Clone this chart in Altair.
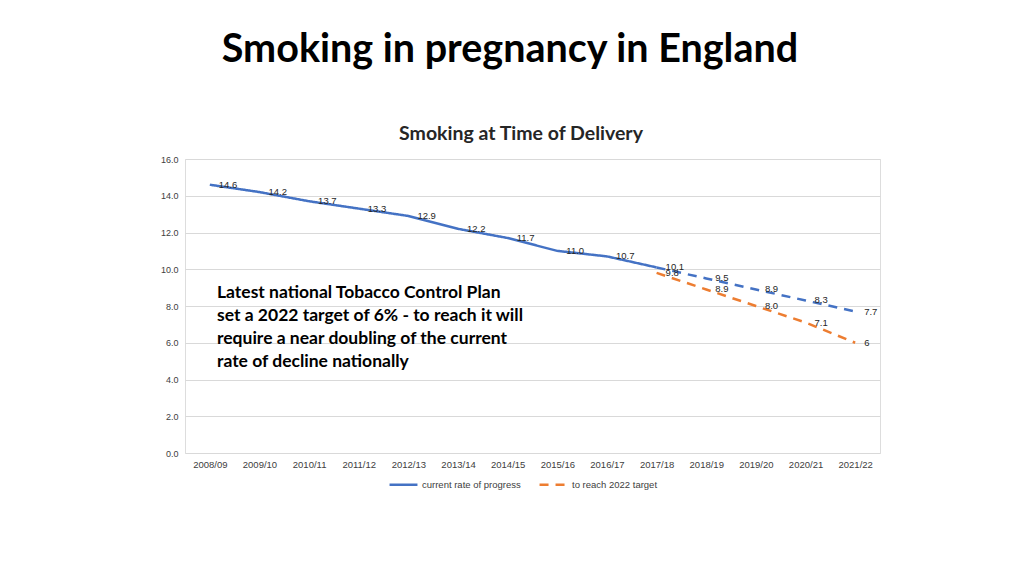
import altair as alt
import pandas as pd

years = ["2008/09", "2009/10", "2010/11", "2011/12", "2012/13", "2013/14", "2014/15",
         "2015/16", "2016/17", "2017/18", "2018/19", "2019/20", "2020/21", "2021/22"]
actual_years = years[:10]
actual_values = [14.6, 14.2, 13.7, 13.3, 12.9, 12.2, 11.7, 11.0, 10.7, 10.1]
proj_years = years[9:]
proj_values = [10.1, 9.5, 8.9, 8.3, 7.7]
target_years = years[9:]
target_values = [9.8, 8.9, 8.0, 7.1, 6.0]
target_labels = ["9.8", "8.9", "8.0", "7.1", "6"]

S1 = "current rate of progress"
S2 = "to reach 2022 target"
BLUE = "#4472C4"
ORANGE = "#ED7D31"
DASH = [9, 7]

main = pd.DataFrame(
    [{"year": y, "value": v, "series": S1, "label": f"{v:.1f}"} for y, v in zip(actual_years, actual_values)]
    + [{"year": y, "value": v, "series": S2, "label": l} for y, v, l in zip(target_years, target_values, target_labels)]
)
proj = pd.DataFrame({"year": proj_years, "value": proj_values,
                     "label": [f"{v:.1f}" for v in proj_values]})

W, H = 695, 294
xenc = alt.X("year:N", sort=years, scale=alt.Scale(domain=years, paddingInner=0, paddingOuter=0.5),
             axis=alt.Axis(title=None, labelAngle=0, labelFontSize=9.5, labelColor="#404040",
                           labelFont="Liberation Sans", ticks=False, domain=False, labelPadding=6))
yenc = alt.Y("value:Q", scale=alt.Scale(domain=[0, 16]),
             axis=alt.Axis(title=None, values=[0, 2, 4, 6, 8, 10, 12, 14, 16], format=".1f",
                           labelFontSize=9, labelColor="#404040", labelFont="Liberation Sans",
                           ticks=False, domain=False, gridColor="#d9d9d9", labelPadding=7,
                           labelOverlap=False))

leg = alt.Legend(title=None, orient="none", legendX=203, legendY=310,
                 direction="horizontal", symbolType="stroke",
                 symbolStrokeWidth=2.5, symbolSize=780, labelOffset=3,
                 labelFontSize=9.5, labelFont="Liberation Sans",
                 labelColor="#404040", columnPadding=13)

lines = alt.Chart(main).mark_line(strokeWidth=2.5).encode(
    x=xenc, y=yenc,
    color=alt.Color("series:N", scale=alt.Scale(domain=[S1, S2], range=[BLUE, ORANGE]), legend=leg),
    strokeDash=alt.StrokeDash("series:N", scale=alt.Scale(domain=[S1, S2], range=[[1, 0], DASH]),
                              legend=leg),
)

proj_line = alt.Chart(proj).mark_line(strokeWidth=2.5, strokeDash=DASH, color=BLUE).encode(
    x=xenc, y=yenc)

main_labels = alt.Chart(main).mark_text(align="left", baseline="middle", dx=9, fontSize=9.5,
                                        font="Liberation Sans", color="#262626").encode(
    x=xenc, y=yenc, text="label:N")
proj_labels = alt.Chart(proj[1:]).mark_text(align="left", baseline="middle", dx=9, fontSize=9.5,
                                            font="Liberation Sans", color="#262626").encode(
    x=xenc, y=yenc, text="label:N")

title = alt.Chart(pd.DataFrame({"t": ["Smoking in pregnancy in England"]})).mark_text(
    align="center", baseline="middle", font="Lato", fontWeight="bold", fontSize=39.5, color="#000000"
).encode(x=alt.value(325), y=alt.value(-109), text="t:N")

subtitle = alt.Chart(pd.DataFrame({"t": ["Smoking at Time of Delivery"]})).mark_text(
    align="center", baseline="middle", font="Lato", fontWeight="bold", fontSize=19.5, color="#262626"
).encode(x=alt.value(336), y=alt.value(-25), text="t:N")

note_lines = ["Latest national Tobacco Control Plan",
              "set a 2022 target of 6% - to reach it will",
              "require a near doubling of the current",
              "rate of decline nationally"]
note = alt.Chart(pd.DataFrame({"t": ["note"]})).mark_text(
    align="left", baseline="middle", font="Lato", fontWeight="bold", fontSize=17.5,
    lineHeight=23, color="#000000"
).encode(x=alt.value(32), y=alt.value(134), text=alt.value(note_lines))

chart = alt.layer(lines, proj_line, main_labels, proj_labels, title, subtitle, note).properties(
    width=W, height=H,
    autosize=alt.AutoSizeParams(type="none"),
    padding={"left": 177, "top": 151, "right": 120, "bottom": 100},
).configure_view(stroke=None).configure(background="white")

chart.save("out.html", embed_options={"renderer": "svg", "actions": False})
